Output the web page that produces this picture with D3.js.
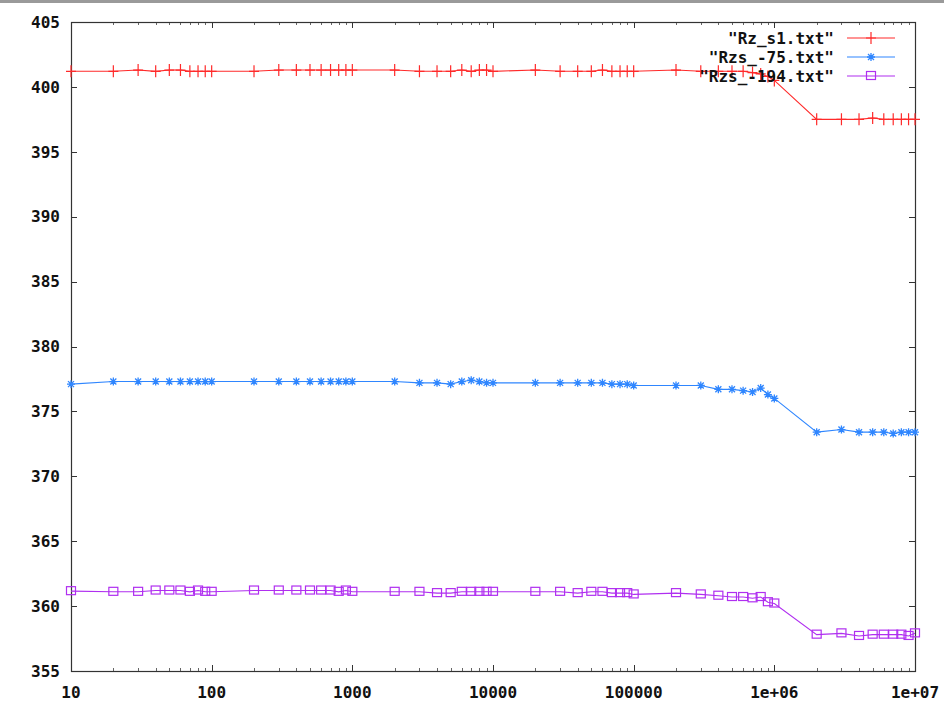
<!DOCTYPE html>
<html>
<head>
<meta charset="utf-8">
<script src="https://cdn.jsdelivr.net/npm/d3@7"></script>
<style>
  body { margin: 0; background: #fff; }
  text { font-family: "DejaVu Sans Mono", monospace; font-weight: bold; font-size: 16px; fill: #111; }
</style>
</head>
<body>
<div id="chart"></div>
<script>
// x positions of the samples (log axis)
const xs = [10, 20, 30, 40, 50, 60, 70, 80, 90,
  100, 200, 300, 400, 500, 600, 700, 800, 900,
  1000, 2000, 3000, 4000, 5000, 6000, 7000, 8000, 9000,
  10000, 20000, 30000, 40000, 50000, 60000, 70000, 80000, 90000,
  100000, 200000, 300000, 400000, 500000, 600000, 700000, 800000, 900000,
  1000000, 2000000, 3000000, 4000000, 5000000, 6000000, 7000000, 8000000, 9000000,
  10000000];

const rzS1 = [401.2, 401.2, 401.3, 401.2, 401.3, 401.3, 401.2, 401.2, 401.2,
  401.2, 401.2, 401.3, 401.3, 401.3, 401.3, 401.3, 401.3, 401.3,
  401.3, 401.3, 401.2, 401.2, 401.2, 401.3, 401.2, 401.3, 401.3,
  401.2, 401.3, 401.2, 401.2, 401.2, 401.3, 401.2, 401.2, 401.2,
  401.2, 401.3, 401.2, 401.2, 401.2, 401.2, 401.1, 401.0, 400.8,
  400.5, 397.5, 397.5, 397.5, 397.6, 397.5, 397.5, 397.5, 397.5,
  397.5];

const rzs75 = [377.1, 377.3, 377.3, 377.3, 377.3, 377.3, 377.3, 377.3, 377.3,
  377.3, 377.3, 377.3, 377.3, 377.3, 377.3, 377.3, 377.3, 377.3,
  377.3, 377.3, 377.2, 377.2, 377.1, 377.3, 377.4, 377.3, 377.2,
  377.2, 377.2, 377.2, 377.2, 377.2, 377.2, 377.1, 377.1, 377.1,
  377.0, 377.0, 377.0, 376.7, 376.7, 376.6, 376.5, 376.8, 376.3,
  376.0, 373.4, 373.6, 373.4, 373.4, 373.4, 373.3, 373.4, 373.4,
  373.4];

const rzs194 = [361.15, 361.1, 361.1, 361.2, 361.2, 361.2, 361.1, 361.2, 361.1,
  361.1, 361.2, 361.2, 361.2, 361.2, 361.2, 361.2, 361.1, 361.2,
  361.1, 361.1, 361.1, 361.0, 361.0, 361.1, 361.1, 361.1, 361.1,
  361.1, 361.1, 361.1, 361.0, 361.1, 361.1, 361.0, 361.0, 361.0,
  360.9, 361.0, 360.9, 360.8, 360.7, 360.7, 360.6, 360.7, 360.3,
  360.2, 357.8, 357.9, 357.7, 357.8, 357.8, 357.8, 357.8, 357.7,
  357.9];

const seriesNames = ['"Rz_s1.txt"', '"Rzs_-75.txt"', '"Rzs_-194.txt"'];
const seriesColors = ["#ff2a2a", "#2f86ff", "#b02ff0"];
const seriesMarkers = ["plus", "star", "square"];
const yTicks = [355, 360, 365, 370, 375, 380, 385, 390, 395, 400, 405];
const xTicks = [10, 100, 1000, 10000, 100000, 1000000, 10000000];
const xTickLabels = ["10", "100", "1000", "10000", "100000", "1e+06", "1e+07"];

const W = 944, H = 707;
const m = { left: 71, right: 915, top: 22, bottom: 671 };

const svg = d3.select("#chart").append("svg")
  .attr("width", W)
  .attr("height", H);

svg.append("rect").attr("x", 0).attr("y", 0).attr("width", W).attr("height", 3).attr("fill", "#9a9a9a");

const x = d3.scaleLog().domain([10, 1e7]).range([m.left, m.right]);
const y = d3.scaleLinear().domain([355, 405]).range([m.bottom, m.top]);

// minor ticks, 2..9 per decade
const minor = [];
x.ticks().forEach(t => { if (xTicks.indexOf(t) < 0) minor.push(t); });

const axisG = svg.append("g").attr("stroke", "#333").attr("stroke-width", 1);

// major/minor ticks, mirrored on top and right
xTicks.forEach(t => {
  const px = Math.round(x(t)) + 0.5;
  axisG.append("line").attr("x1", px).attr("x2", px).attr("y1", m.bottom).attr("y2", m.bottom - 6);
  axisG.append("line").attr("x1", px).attr("x2", px).attr("y1", m.top).attr("y2", m.top + 6);
});
minor.forEach(t => {
  const px = Math.round(x(t)) + 0.5;
  axisG.append("line").attr("x1", px).attr("x2", px).attr("y1", m.bottom).attr("y2", m.bottom - 3).attr("stroke", "#666");
  axisG.append("line").attr("x1", px).attr("x2", px).attr("y1", m.top).attr("y2", m.top + 3).attr("stroke", "#666");
});
yTicks.forEach(t => {
  const py = Math.round(y(t)) + 0.5;
  axisG.append("line").attr("x1", m.left).attr("x2", m.left + 6).attr("y1", py).attr("y2", py);
  axisG.append("line").attr("x1", m.right).attr("x2", m.right - 6).attr("y1", py).attr("y2", py);
});

svg.append("rect")
  .attr("x", m.left + 0.5).attr("y", m.top + 0.5)
  .attr("width", m.right - m.left).attr("height", m.bottom - m.top)
  .attr("fill", "none").attr("stroke", "#333").attr("stroke-width", 1.2);

// tick labels
svg.append("g").selectAll("text").data(yTicks).join("text")
  .attr("x", 60)
  .attr("y", d => y(d))
  .attr("dy", "0.36em")
  .attr("text-anchor", "end")
  .text(d => d);

svg.append("g").selectAll("text").data(xTicks).join("text")
  .attr("x", d => x(d))
  .attr("y", 692)
  .attr("dy", "0.36em")
  .attr("text-anchor", "middle")
  .text((d, i) => xTickLabels[i]);

function drawMarker(g, type, cx, cy, color) {
  if (type === "plus") {
    g.append("path").attr("d", `M${cx - 5},${cy}H${cx + 5}M${cx},${cy - 6}V${cy + 6}`)
      .attr("stroke", color).attr("stroke-width", 1.2).attr("fill", "none");
  } else if (type === "star") {
    g.append("path").attr("d", `M${cx - 4},${cy}H${cx + 4}M${cx},${cy - 4}V${cy + 4}M${cx - 3},${cy - 3}L${cx + 3},${cy + 3}M${cx - 3},${cy + 3}L${cx + 3},${cy - 3}`)
      .attr("stroke", color).attr("stroke-width", 1.3).attr("fill", "none");
  } else {
    g.append("rect").attr("x", cx - 4.5).attr("y", cy - 4.5).attr("width", 9).attr("height", 8)
      .attr("stroke", color).attr("stroke-width", 1.2).attr("fill", "none");
  }
}

const allSeries = [rzS1, rzs75, rzs194];
const line = d3.line().x(d => x(d[0])).y(d => y(d[1]));

allSeries.forEach((vals, i) => {
  const pts = xs.map((xv, j) => [xv, vals[j]]);
  const g = svg.append("g");
  g.append("path").datum(pts)
    .attr("d", line)
    .attr("fill", "none")
    .attr("stroke", seriesColors[i])
    .attr("stroke-width", 1.1);
  pts.forEach(p => drawMarker(g, seriesMarkers[i], x(p[0]), y(p[1]), seriesColors[i]));
});

// legend
const legend = svg.append("g");
seriesNames.forEach((name, i) => {
  const ly = 38 + i * 19;
  legend.append("text")
    .attr("x", 834).attr("y", ly).attr("dy", "0.36em")
    .attr("text-anchor", "end")
    .text(name);
  legend.append("line")
    .attr("x1", 847).attr("x2", 895).attr("y1", ly).attr("y2", ly)
    .attr("stroke", seriesColors[i]).attr("stroke-width", 1.1);
  drawMarker(legend, seriesMarkers[i], 871, ly, seriesColors[i]);
});
</script>
</body>
</html>
